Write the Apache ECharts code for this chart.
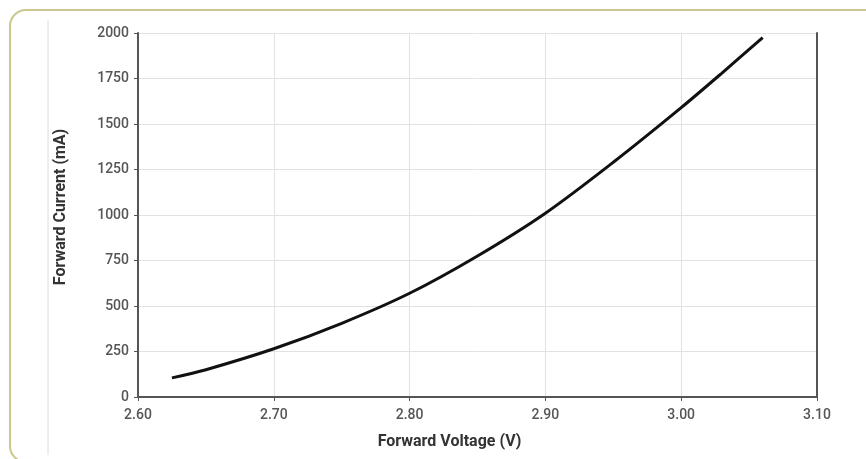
<!DOCTYPE html>
<html>
<head>
<meta charset="utf-8">
<script src="https://cdn.jsdelivr.net/npm/echarts@6/dist/echarts.min.js"></script>
<style>
html,body{margin:0;padding:0;background:#fff;}
#chart{width:866px;height:459px;}
</style>
</head>
<body>
<div id="chart"></div>
<script>
const voltage = [2.625, 2.65, 2.70, 2.75, 2.80, 2.85, 2.90, 2.95, 3.00, 3.03, 3.06];
const current = [105, 150, 265, 405, 570, 775, 1010, 1290, 1590, 1780, 1975];
const xTicks = {min: 2.6, max: 3.1, step: 0.1};
const yTicks = {min: 0, max: 2000, step: 250};

const labelStyle = {fontFamily: 'Roboto', fontSize: 14, fontWeight: 500, color: '#555'};
const nameStyle = {fontFamily: 'Roboto', fontWeight: 'bold', fontSize: 16, color: '#333'};

const chart = echarts.init(document.getElementById('chart'));
chart.setOption({
  animation: false,
  backgroundColor: '#fff',
  graphic: [
    {type: 'rect', shape: {x: 10, y: 10, width: 900, height: 452, r: 16},
     style: {fill: 'none', stroke: '#cbc78e', lineWidth: 2}, z: -1},
    {type: 'line', shape: {x1: 48, y1: 20, x2: 48, y2: 455},
     style: {stroke: '#dcdcdc', lineWidth: 1}, z: -1}
  ],
  grid: {left: 138, right: 49, top: 33, bottom: 62},
  xAxis: [{
    type: 'value', min: xTicks.min, max: xTicks.max, interval: xTicks.step,
    name: 'Forward Voltage (V)', nameLocation: 'middle', nameGap: 37,
    nameTextStyle: Object.assign({padding: [0, 56, 0, 0]}, nameStyle),
    axisLine: {show: true, lineStyle: {color: '#555', width: 2}},
    axisTick: {show: true, length: 4, lineStyle: {color: '#555'}},
    axisLabel: Object.assign({margin: 11, formatter: v => v.toFixed(2)}, labelStyle),
    splitLine: {show: true, lineStyle: {color: '#e2e2e2', width: 1}}
  }, {
    type: 'value', position: 'top', min: xTicks.min, max: xTicks.max, interval: xTicks.step,
    axisLine: {show: true, lineStyle: {color: '#555', width: 2}},
    axisTick: {show: false}, axisLabel: {show: false}, splitLine: {show: false}
  }],
  yAxis: [{
    type: 'value', min: yTicks.min, max: yTicks.max, interval: yTicks.step,
    name: 'Forward Current (mA)', nameLocation: 'middle', nameGap: 69,
    nameTextStyle: Object.assign({padding: [0, 0, 0, 16]}, nameStyle),
    axisLine: {show: true, lineStyle: {color: '#555', width: 2}},
    axisTick: {show: true, length: 4, lineStyle: {color: '#555'}},
    axisLabel: Object.assign({margin: 9, formatter: v => String(v)}, labelStyle),
    splitLine: {show: true, lineStyle: {color: '#e2e2e2', width: 1}}
  }, {
    type: 'value', position: 'right', min: yTicks.min, max: yTicks.max, interval: yTicks.step,
    axisLine: {show: true, lineStyle: {color: '#555', width: 2}},
    axisTick: {show: false}, axisLabel: {show: false}, splitLine: {show: false}
  }],
  series: [{
    type: 'line',
    data: voltage.map((v, i) => [v, current[i]]),
    smooth: 0.3,
    showSymbol: false,
    lineStyle: {color: '#111', width: 3}
  }]
});
</script>
</body>
</html>
